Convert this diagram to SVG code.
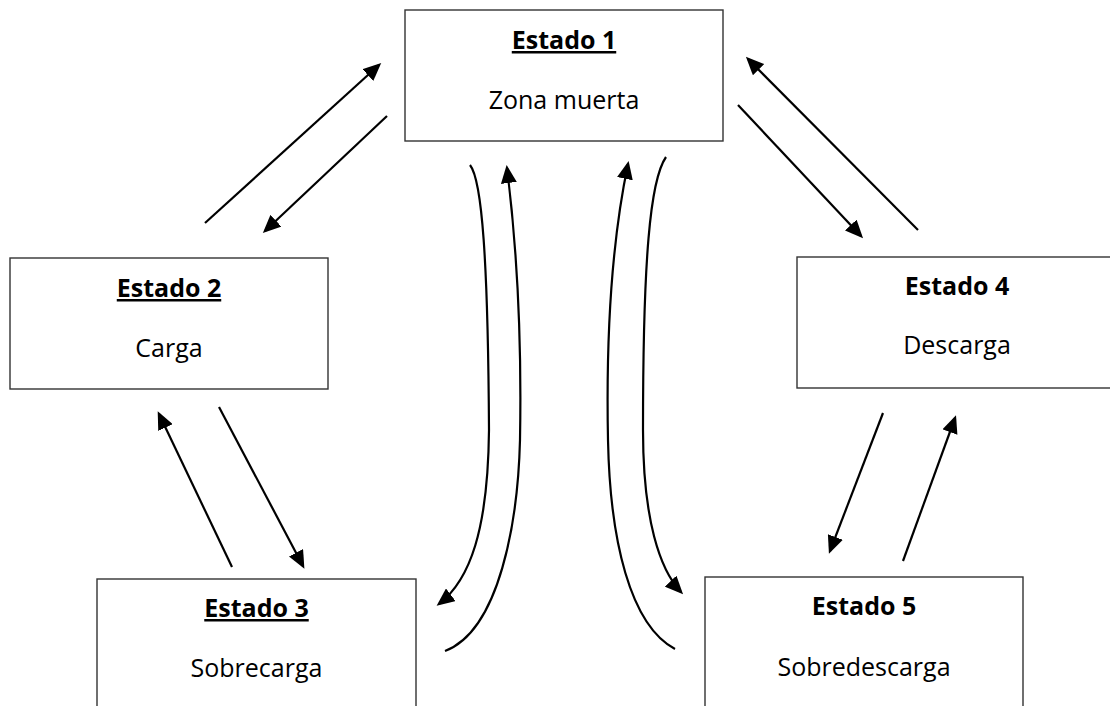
<svg xmlns="http://www.w3.org/2000/svg" width="1110" height="706" viewBox="0 0 1110 706">
<style>
.box{fill:#fff;stroke:#333;stroke-width:1.4}
.t{font-family:"Open Sans","Liberation Sans",sans-serif;font-size:25px;fill:#000;text-anchor:middle}
.b{font-weight:bold}
.u{text-decoration:underline}
.c{fill:none;stroke:#000;stroke-width:2.2}
</style>
<defs>
<marker id="ah" markerUnits="userSpaceOnUse" markerWidth="18" markerHeight="16" viewBox="0 0 18 16" refX="15" refY="8" orient="auto">
<path d="M0,0 L18,8 L0,16 z" fill="#000"/>
</marker>
</defs>
<rect width="1110" height="706" fill="#fff"/>
<g id="connectors">
<path class="c" d="M205,223 L379,65" marker-end="url(#ah)"/>
<path class="c" d="M387,116 L265,231" marker-end="url(#ah)"/>
<path class="c" d="M918,230 L748,59" marker-end="url(#ah)"/>
<path class="c" d="M738,105 L861,236" marker-end="url(#ah)"/>
<path class="c" d="M232,567 L159,414" marker-end="url(#ah)"/>
<path class="c" d="M219,407 L303,566" marker-end="url(#ah)"/>
<path class="c" d="M883,413 L830,551" marker-end="url(#ah)"/>
<path class="c" d="M903,561 L955,418" marker-end="url(#ah)"/>
<path class="c" d="M470,165 C482,180 488,260 489,430 C488,530 470,580 439,604" marker-end="url(#ah)"/>
<path class="c" d="M445,651 C500,630 518,520 520,440 C522,330 516,240 507,168" marker-end="url(#ah)"/>
<path class="c" d="M675,649 C630,625 610,540 608,440 C606,340 612,240 628,164" marker-end="url(#ah)"/>
<path class="c" d="M666,157 C650,180 643,260 643,430 C643,520 660,570 681,592" marker-end="url(#ah)"/>
</g>
<g id="estado1">
<rect class="box" x="405" y="10" width="318" height="131"/>
<text class="t b u" x="564" y="49">Estado 1</text>
<text class="t" x="564" y="109">Zona muerta</text>
</g>
<g id="estado2">
<rect class="box" x="10" y="258" width="318" height="131"/>
<text class="t b u" x="169" y="297">Estado 2</text>
<text class="t" x="169" y="357">Carga</text>
</g>
<g id="estado4">
<rect class="box" x="797" y="257" width="320" height="131"/>
<text class="t b" x="957" y="295">Estado 4</text>
<text class="t" x="957" y="354">Descarga</text>
</g>
<g id="estado3">
<rect class="box" x="97" y="579" width="319" height="140"/>
<text class="t b u" x="256.5" y="617">Estado 3</text>
<text class="t" x="256.5" y="677">Sobrecarga</text>
</g>
<g id="estado5">
<rect class="box" x="705" y="577" width="318" height="140"/>
<text class="t b" x="864" y="615">Estado 5</text>
<text class="t" x="864" y="676">Sobredescarga</text>
</g>
</svg>
